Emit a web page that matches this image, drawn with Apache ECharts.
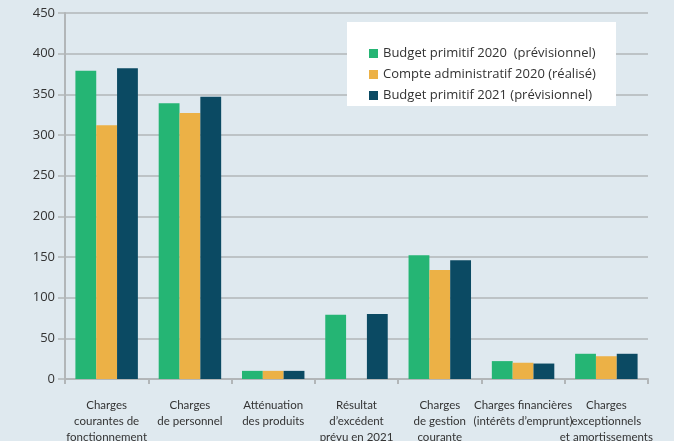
<!DOCTYPE html>
<html>
<head>
<meta charset="utf-8">
<script src="https://cdn.jsdelivr.net/npm/echarts@6/dist/echarts.min.js"></script>
<style>
  html, body { margin: 0; padding: 0; background: #dfe9ef; }
  #main { width: 674px; height: 441px; }
</style>
</head>
<body>
<div id="main"></div>
<script>
var categories = [
  'Charges\ncourantes de\nfonctionnement',
  'Charges\nde personnel',
  'Atténuation\ndes produits',
  'Résultat\nd\u2019excédent\nprévu en 2021',
  'Charges\nde gestion\ncourante',
  'Charges financières\n(intérêts d\u2019emprunt)',
  'Charges\nexceptionnels\net amortissements'
];
var bp2020 = [379, 339, 10, 79, 152, 22, 31];
var ca2020 = [312, 327, 10, null, 134, 20, 28];
var bp2021 = [382, 347, 10, 80, 146, 19, 31];
var seriesNames = [
  'Budget primitif 2020  (prévisionnel)',
  'Compte administratif 2020 (réalisé)',
  'Budget primitif 2021 (prévisionnel)'
];

var chart = echarts.init(document.getElementById('main'));
var font = 'Open Sans';
var option = {
  backgroundColor: '#dfe9ef',
  color: ['#25b574', '#ecb146', '#0b4a63'],
  textStyle: { fontFamily: font },
  graphic: [{
    type: 'rect',
    left: 347, top: 22,
    shape: { width: 269, height: 84 },
    style: { fill: '#ffffff' },
    z: 10
  }],
  legend: {
    orient: 'vertical',
    left: 364, top: 42,
    itemWidth: 9, itemHeight: 9,
    itemGap: 8,
    icon: 'rect',
    z: 11,
    textStyle: { fontFamily: font, fontSize: 13, color: '#333' },
    data: seriesNames
  },
  grid: { left: 65, right: 26, top: 13, bottom: 62, outerBoundsMode: 'none', containLabel: false },
  xAxis: {
    type: 'category',
    data: categories,
    axisLine: { lineStyle: { color: '#b2b6b8', width: 2 } },
    axisTick: { show: true, length: 5, lineStyle: { color: '#b2b6b8', width: 2 } },
    axisLabel: { interval: 0, hideOverlap: false, fontSize: 11.5, color: '#333', lineHeight: 16, margin: 18, fontFamily: 'Lato' }
  },
  yAxis: {
    type: 'value',
    min: 0, max: 450, interval: 50,
    axisLine: { show: true, lineStyle: { color: '#b2b6b8', width: 2 } },
    axisTick: { show: true, length: 7, lineStyle: { color: '#b2b6b8', width: 1.5 } },
    splitLine: { lineStyle: { color: '#b2b6b8', width: 1.5 } },
    axisLabel: { fontSize: 13, color: '#333', margin: 10, fontFamily: font }
  },
  series: [
    { name: seriesNames[0], type: 'bar', data: bp2020, barGap: '0%', barCategoryGap: '25%' },
    { name: seriesNames[1], type: 'bar', data: ca2020, barGap: '0%', barCategoryGap: '25%' },
    { name: seriesNames[2], type: 'bar', data: bp2021, barGap: '0%', barCategoryGap: '25%' }
  ]
};
chart.setOption(option);
</script>
</body>
</html>
